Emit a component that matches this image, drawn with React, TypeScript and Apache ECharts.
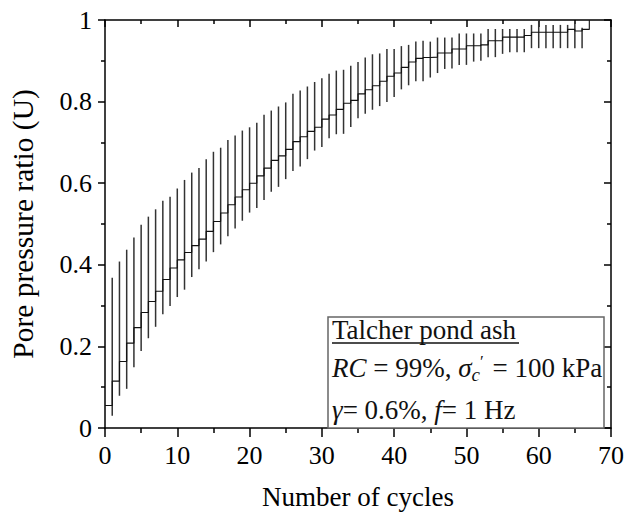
import React, { useEffect, useRef } from 'react';
import * as echarts from 'echarts';

// Cycles at which the oscillation range (vertical bars) is drawn
const barCycles = [
  1, 2, 3, 4, 5, 6, 7, 8, 9, 10, 11, 12, 13, 14, 15, 16, 17, 18, 19, 20, 21, 22,
  23, 24, 25, 26, 27, 28, 29, 30, 31, 32, 33, 34, 35, 36, 37, 38, 39, 40, 41, 42,
  43, 44, 45, 46, 47, 48, 49, 50, 51, 52, 53, 54, 55, 56, 57, 58, 59, 60, 61, 62,
  63, 64, 65, 66,
];
// Upper end of each cycle's range
const barMax = [
  0.368, 0.408, 0.437, 0.467, 0.498, 0.518, 0.536, 0.557, 0.567, 0.587, 0.608,
  0.626, 0.637, 0.659, 0.677, 0.687, 0.706, 0.717, 0.729, 0.737, 0.748, 0.768,
  0.778, 0.788, 0.798, 0.819, 0.827, 0.837, 0.848, 0.857, 0.868, 0.876, 0.878,
  0.888, 0.897, 0.908, 0.916, 0.918, 0.929, 0.929, 0.936, 0.939, 0.947, 0.949,
  0.947, 0.957, 0.957, 0.957, 0.967, 0.967, 0.967, 0.967, 0.978, 0.978, 0.978,
  0.978, 0.978, 0.978, 0.988, 1.0, 0.988, 0.988, 0.988, 0.988, 0.996, 0.981,
];
// Lower end of each cycle's range
const barMin = [
  0.03, 0.079, 0.096, 0.149, 0.189, 0.22, 0.248, 0.279, 0.299, 0.321, 0.339,
  0.37, 0.389, 0.408, 0.431, 0.45, 0.47, 0.489, 0.508, 0.528, 0.539, 0.559,
  0.579, 0.591, 0.61, 0.63, 0.641, 0.659, 0.68, 0.689, 0.71, 0.72, 0.721,
  0.738, 0.759, 0.77, 0.78, 0.789, 0.799, 0.811, 0.83, 0.84, 0.85, 0.85,
  0.859, 0.87, 0.88, 0.881, 0.89, 0.89, 0.898, 0.9, 0.909, 0.909, 0.917,
  0.921, 0.921, 0.921, 0.931, 0.931, 0.931, 0.931, 0.931, 0.931, 0.931, 0.931,
];
// Mean pore pressure ratio trace
const meanCycles = [
  0, 1, 2, 3, 4, 5, 6, 7, 8, 9, 10, 11, 12, 13, 14, 15, 16, 17, 18, 19, 20, 21,
  22, 23, 24, 25, 26, 27, 28, 29, 30, 31, 32, 33, 34, 35, 36, 37, 38, 39, 40, 41,
  42, 43, 44, 45, 46, 47, 48, 49, 50, 51, 52, 53, 54, 55, 56, 57, 58, 59, 60, 61,
  62, 63, 64, 65, 66, 67,
];
const meanU = [
  0.055, 0.115, 0.163, 0.208, 0.246, 0.283, 0.31, 0.335, 0.364, 0.392, 0.412,
  0.43, 0.447, 0.463, 0.482, 0.506, 0.527, 0.547, 0.566, 0.584, 0.6, 0.618,
  0.637, 0.656, 0.667, 0.683, 0.702, 0.714, 0.727, 0.737, 0.757, 0.767, 0.781,
  0.796, 0.803, 0.819, 0.829, 0.839, 0.85, 0.862, 0.87, 0.884, 0.897, 0.906,
  0.908, 0.909, 0.919, 0.919, 0.929, 0.929, 0.937, 0.937, 0.939, 0.949, 0.949,
  0.958, 0.958, 0.958, 0.962, 0.97, 0.97, 0.97, 0.97, 0.97, 0.977, 0.973,
  0.977, 1.0,
];

const FONT = '"Liberation Serif", "Times New Roman", serif';

export default function App() {
  const ref = useRef<HTMLDivElement>(null);

  useEffect(() => {
    document.body.style.margin = '0';
    const chart = echarts.init(ref.current!, null, { renderer: 'svg' });

    const lineStyle = { color: '#000', width: 1.5 };
    const labelStyle = { fontFamily: FONT, fontSize: 26, color: '#000' };

    const barData = barCycles.map((c, i) => [c, barMin[i], barMax[i]]);
    const meanData = meanCycles.map((c, i) => [c, meanU[i]]);

    const option: any = {
      animation: false,
      backgroundColor: '#fff',
      grid: { left: 103, right: 14, top: 20, bottom: 85 },
      xAxis: [
        {
          type: 'value',
          position: 'bottom',
          min: 0,
          max: 70,
          interval: 10,
          name: 'Number of cycles',
          nameLocation: 'middle',
          nameGap: 55,
          nameTextStyle: { ...labelStyle, fontSize: 27 },
          axisLine: { show: true, onZero: false, lineStyle },
          axisTick: { show: true, inside: false, length: 9, lineStyle },
          minorTick: { show: true, splitNumber: 2, length: 5, lineStyle },
          axisLabel: { ...labelStyle, margin: 14 },
          splitLine: { show: false },
        },
        {
          type: 'value',
          position: 'top',
          min: 0,
          max: 70,
          interval: 10,
          axisLine: { show: true, onZero: false, lineStyle },
          axisTick: { show: true, inside: true, length: 7, lineStyle },
          minorTick: { show: true, splitNumber: 2, length: 4, lineStyle },
          axisLabel: { show: false },
          splitLine: { show: false },
        },
      ],
      yAxis: [
        {
          type: 'value',
          position: 'left',
          min: 0,
          max: 1,
          interval: 0.2,
          name: 'Pore pressure ratio (U)',
          nameLocation: 'middle',
          nameGap: 67,
          nameTextStyle: { ...labelStyle, fontSize: 29.5 },
          axisLine: { show: true, onZero: false, lineStyle },
          axisTick: { show: true, inside: false, length: 7, lineStyle },
          minorTick: { show: true, splitNumber: 2, length: 4, lineStyle },
          axisLabel: { ...labelStyle, margin: 13 },
          splitLine: { show: false },
        },
        {
          type: 'value',
          position: 'right',
          min: 0,
          max: 1,
          interval: 0.2,
          axisLine: { show: true, onZero: false, lineStyle },
          axisTick: { show: true, inside: true, length: 7, lineStyle },
          minorTick: { show: true, splitNumber: 2, length: 4, lineStyle },
          axisLabel: { show: false },
          splitLine: { show: false },
        },
      ],
      series: [
        {
          type: 'custom',
          xAxisIndex: 0,
          yAxisIndex: 0,
          data: barData,
          encode: { x: 0, y: [1, 2] },
          renderItem: (params: any, api: any) => {
            const x = api.value(0);
            const p1 = api.coord([x, api.value(1)]);
            const p2 = api.coord([x, api.value(2)]);
            return {
              type: 'line',
              shape: { x1: p1[0], y1: p1[1], x2: p2[0], y2: p2[1] },
              style: { stroke: '#333', lineWidth: 1.5 },
            };
          },
          z: 2,
        },
        {
          type: 'line',
          xAxisIndex: 0,
          yAxisIndex: 0,
          data: meanData,
          step: 'end',
          showSymbol: false,
          symbol: 'none',
          lineStyle: { color: '#111', width: 1.1 },
          z: 3,
        },
      ],
      graphic: [
        {
          type: 'rect',
          shape: { x: 328, y: 317, width: 276, height: 111 },
          style: { fill: '#fff', stroke: '#666', lineWidth: 1.5 },
          z: 100,
        },
        {
          type: 'text',
          x: 332,
          y: 330,
          z: 101,
          style: {
            text: 'Talcher pond ash',
            fontFamily: FONT,
            fontSize: 27,
            fill: '#111',
            align: 'left',
            verticalAlign: 'middle',
          },
        },
        {
          type: 'line',
          z: 101,
          shape: { x1: 332, y1: 343, x2: 519, y2: 343 },
          style: { stroke: '#111', lineWidth: 1.3 },
        },
        {
          type: 'text',
          x: 332,
          y: 368,
          z: 101,
          style: {
            text: '{i|RC} = 99%, {i|σ}{sub|c}{sup|′} = 100 kPa',
            fontFamily: FONT,
            fontSize: 27,
            fill: '#111',
            align: 'left',
            verticalAlign: 'middle',
            rich: {
              i: { fontFamily: FONT, fontSize: 27, fontStyle: 'italic', fill: '#111' },
              sub: {
                fontFamily: FONT,
                fontSize: 19,
                fontStyle: 'italic',
                fill: '#111',
                padding: [12, 0, 0, 0],
              },
              sup: {
                fontFamily: FONT,
                fontSize: 17,
                fill: '#111',
                padding: [0, 2, 14, 0],
              },
            },
          },
        },
        {
          type: 'text',
          x: 332,
          y: 410,
          z: 101,
          style: {
            text: '{i|γ}= 0.6%, {i|f}= 1 Hz',
            fontFamily: FONT,
            fontSize: 27,
            fill: '#111',
            align: 'left',
            verticalAlign: 'middle',
            rich: {
              i: { fontFamily: FONT, fontSize: 27, fontStyle: 'italic', fill: '#111' },
            },
          },
        },
      ],
    };

    chart.setOption(option);
    return () => chart.dispose();
  }, []);

  return <div ref={ref} style={{ width: 627, height: 515, overflow: 'hidden' }} />;
}
